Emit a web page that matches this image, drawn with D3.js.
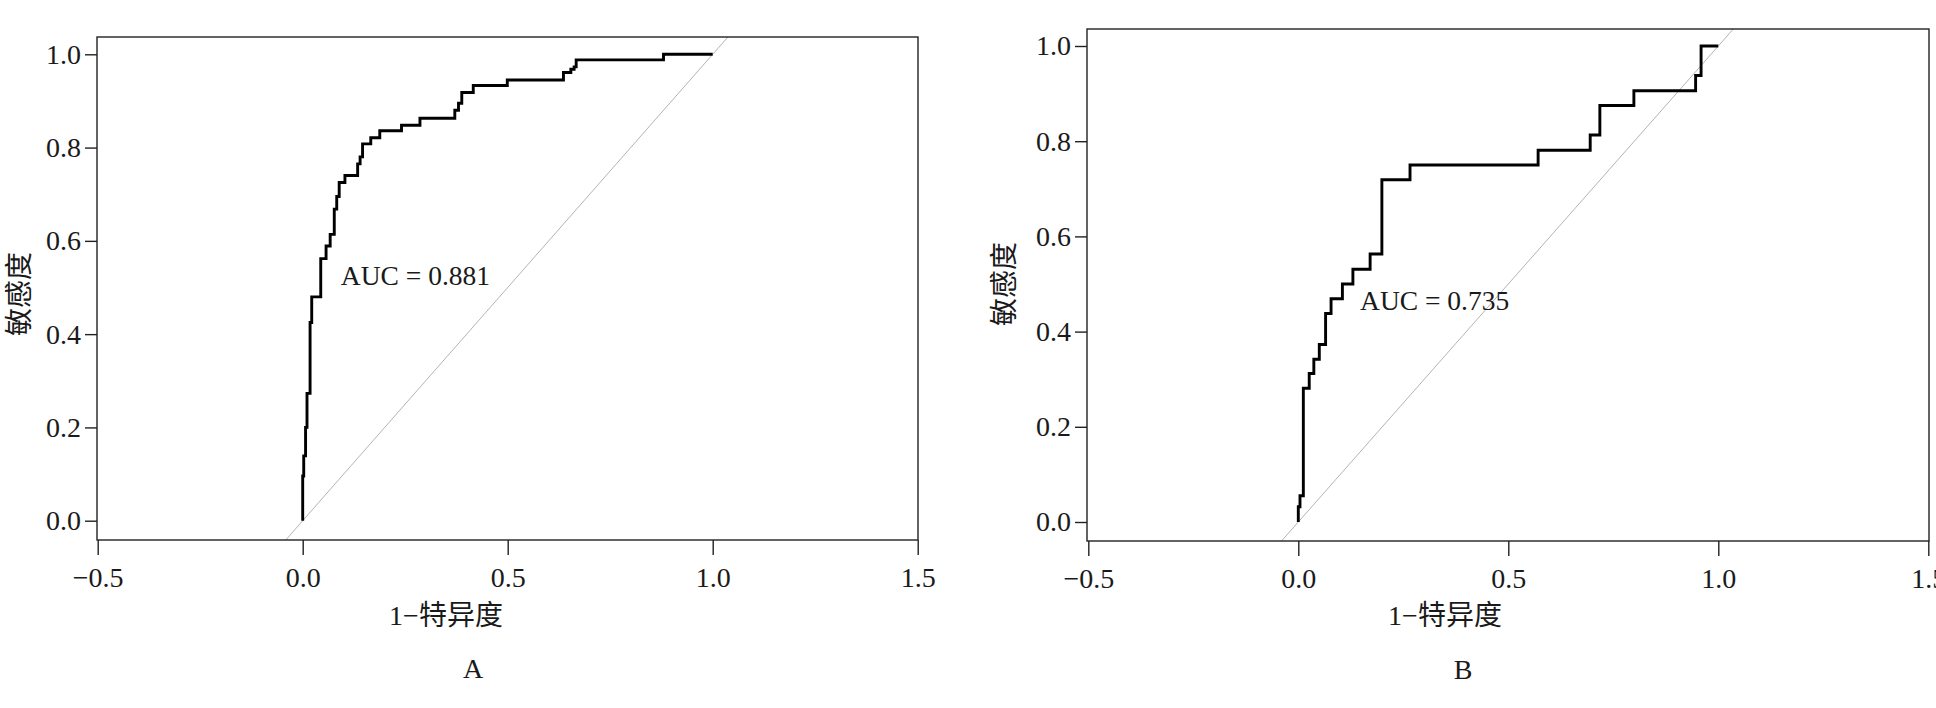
<!DOCTYPE html>
<html>
<head>
  <meta charset='utf-8'>
  <title>ROC curves A / B</title>
  <script src='https://cdn.jsdelivr.net/npm/d3@7/dist/d3.min.js'></script>
  <style>
    html, body { margin: 0; padding: 0; background: #fff; }
    svg { display: block; }
    text { font-family: 'Liberation Serif', 'Noto Sans CJK SC', serif; fill: #1a1a1a; }
  </style>
</head>
<body>
<svg id='chart' width='1936' height='708'></svg>
<script>
// ROC corner points (step drawn vertical first, then horizontal)
const fprA = [0, 0.0025, 0.007, 0.0105, 0.018, 0.022, 0.044, 0.057, 0.067, 0.077,
  0.083, 0.089, 0.103, 0.134, 0.14, 0.146, 0.166, 0.188, 0.241, 0.286,
  0.371, 0.38, 0.388, 0.416, 0.499, 0.636, 0.654, 0.662, 0.667, 0.88, 1.0];
const tprA = [0, 0.096, 0.139, 0.2, 0.273, 0.425, 0.48, 0.562, 0.589, 0.614,
  0.668, 0.695, 0.725, 0.74, 0.765, 0.78, 0.808, 0.821, 0.836, 0.848,
  0.863, 0.88, 0.895, 0.918, 0.933, 0.945, 0.961, 0.968, 0.973, 0.988, 1.0];

const fprB = [0, 0.004, 0.012, 0.026, 0.037, 0.05, 0.065, 0.078, 0.105, 0.13,
  0.171, 0.199, 0.266, 0.571, 0.695, 0.718, 0.799, 0.946, 0.959, 1.0];
const tprB = [0, 0.032, 0.055, 0.281, 0.312, 0.342, 0.373, 0.438, 0.469, 0.5,
  0.531, 0.563, 0.719, 0.75, 0.781, 0.813, 0.875, 0.906, 0.938, 1.0];

const xTicks = [-0.5, 0, 0.5, 1.0, 1.5];
const yTicks = [0, 0.2, 0.4, 0.6, 0.8, 1.0];
const panelLabels = ['A', 'B'];
const aucLabels = ['AUC = 0.881', 'AUC = 0.735'];
const aucAt = [[0.093, 0.505], [0.147, 0.445]];   // where the AUC note sits, in data units
const xTitle = '1\u2212特异度';
const yTitle = '敏感度';

// layout of each panel, in pixels
const layouts = [
  { frame: [97, 37, 918, 540], xRange: [97.7, 917.7], yRange: [520.7, 54.3],
    yTitle: [19, 294], xTitle: [446, 625], label: [473, 678] },
  { frame: [1087, 29, 1929, 541], xRange: [1088.3, 1928.3], yRange: [522, 46],
    yTitle: [1004, 284], xTitle: [1445, 625], label: [1463, 679] }
];

const svg = d3.select('#chart');
const fmt = d => (d < 0 ? '\u2212' : '') + Math.abs(d).toFixed(1);

[[fprA, tprA], [fprB, tprB]].forEach(([fpr, tpr], i) => {
  const L = layouts[i];
  const [fl, ft, fr, fb] = L.frame;
  const x = d3.scaleLinear().domain([-0.5, 1.5]).range(L.xRange);
  const y = d3.scaleLinear().domain([0, 1]).range(L.yRange);
  const g = svg.append('g');

  const clipId = 'clip-' + i;
  svg.append('defs').append('clipPath').attr('id', clipId)
    .append('rect')
      .attr('x', fl).attr('y', ft)
      .attr('width', fr - fl).attr('height', fb - ft);

  // reference diagonal, runs past the data range until the frame clips it
  g.append('line')
    .attr('clip-path', `url(#${clipId})`)
    .attr('x1', x(-0.1)).attr('y1', y(-0.1))
    .attr('x2', x(1.1)).attr('y2', y(1.1))
    .attr('stroke', '#b4b4b4')
    .attr('stroke-width', 1);

  // the ROC curve itself
  const pts = fpr.map((f, k) => [f, tpr[k]]);
  const line = d3.line()
    .x(d => x(d[0]))
    .y(d => y(d[1]))
    .curve(d3.curveStepBefore);
  g.append('path')
    .datum(pts)
    .attr('d', line)
    .attr('fill', 'none')
    .attr('stroke', '#000')
    .attr('stroke-width', 2.9)
    .attr('stroke-linejoin', 'miter');

  // frame
  g.append('rect')
    .attr('x', fl).attr('y', ft)
    .attr('width', fr - fl).attr('height', fb - ft)
    .attr('fill', 'none')
    .attr('stroke', '#222')
    .attr('stroke-width', 1.4);

  // axes
  const gx = g.append('g')
    .attr('transform', `translate(0, ${fb})`)
    .call(d3.axisBottom(x).tickValues(xTicks).tickFormat(fmt)
      .tickSize(15).tickPadding(12));
  const gy = g.append('g')
    .attr('transform', `translate(${fl}, 0)`)
    .call(d3.axisLeft(y).tickValues(yTicks).tickFormat(fmt)
      .tickSize(12).tickPadding(4));
  [gx, gy].forEach(a => {
    a.select('.domain').remove();
    a.selectAll('.tick line').attr('stroke', '#222').attr('stroke-width', 1.4);
    a.selectAll('.tick text')
      .attr('fill', '#1a1a1a')
      .style('font-family', "'Liberation Serif', serif")
      .style('font-size', '28px');
  });

  // AUC note
  g.append('text')
    .attr('x', x(aucAt[i][0]))
    .attr('y', y(aucAt[i][1]))
    .style('font-size', '27.5px')
    .text(aucLabels[i]);

  // axis titles
  g.append('text')
    .attr('x', L.xTitle[0]).attr('y', L.xTitle[1])
    .attr('text-anchor', 'middle')
    .style('font-size', '28px')
    .text(xTitle);
  g.append('text')
    .attr('transform', `translate(${L.yTitle[0]}, ${L.yTitle[1]}) rotate(-90)`)
    .attr('text-anchor', 'middle')
    .attr('dominant-baseline', 'central')
    .style('font-size', '28px')
    .text(yTitle);

  // panel letter
  g.append('text')
    .attr('x', L.label[0]).attr('y', L.label[1])
    .attr('text-anchor', 'middle')
    .style('font-size', '28px')
    .text(panelLabels[i]);
});
</script>
</body>
</html>
